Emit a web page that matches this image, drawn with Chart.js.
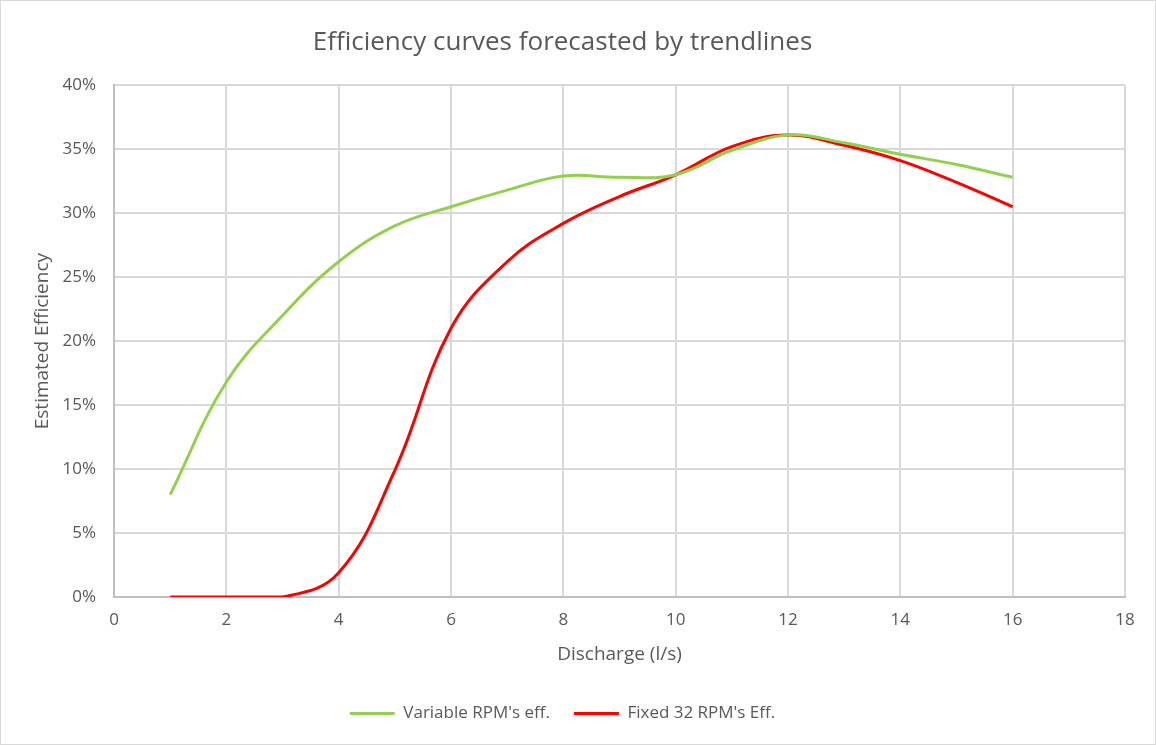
<!DOCTYPE html>
<html>
<head>
<meta charset="utf-8">
<script src="https://cdn.jsdelivr.net/npm/chart.js@4/dist/chart.umd.min.js"></script>
<style>
  html, body { margin: 0; padding: 0; background: #fff; }
  #wrap { width: 1156px; height: 745px; position: relative; }
</style>
</head>
<body>
<div id="wrap"><canvas id="chart"></canvas></div>
<script>
// discharge (l/s) and efficiency (%)
const discharge = [1, 2, 3, 4, 5, 6, 7, 8, 9, 10, 11, 12, 13, 14, 15, 16];
const variableEff = [8.0, 16.8, 22.0, 26.2, 29.0, 30.5, 31.8, 32.9, 32.8, 33.0, 34.9, 36.1, 35.5, 34.6, 33.8, 32.8];
const fixedEff = [0, 0, 0, 1.9, 9.9, 21.0, 26.2, 29.2, 31.3, 33.0, 35.2, 36.1, 35.3, 34.1, 32.4, 30.5];
const xTicks = [0, 2, 4, 6, 8, 10, 12, 14, 16, 18];
const yTicks = [0, 5, 10, 15, 20, 25, 30, 35, 40];

const FONT = '"Open Sans", Lato, sans-serif';
const TEXT = '#595959';
const GRID = '#d9d9d9';

const toPoints = (xs, ys) => xs.map((x, i) => ({ x: x, y: ys[i] }));

// thin frame round the whole chart, like the spreadsheet chart area
const frame = {
  id: 'frame',
  beforeDraw(chart) {
    const ctx = chart.ctx;
    ctx.save();
    ctx.fillStyle = '#fff';
    ctx.fillRect(0, 0, chart.width, chart.height);
    ctx.strokeStyle = GRID;
    ctx.lineWidth = 1;
    ctx.strokeRect(0.5, 0.5, chart.width - 1, chart.height - 1);
    ctx.restore();
  }
};

new Chart(document.getElementById('chart'), {
  type: 'line',
  data: {
    datasets: [
      {
        label: "Variable RPM's eff.",
        data: toPoints(discharge, variableEff),
        borderColor: '#92d050',
        backgroundColor: '#92d050',
        borderWidth: 3,
        pointRadius: 0,
        tension: 0.4
      },
      {
        label: "Fixed 32 RPM's Eff.",
        data: toPoints(discharge, fixedEff),
        borderColor: '#ff0000',
        backgroundColor: '#ff0000',
        borderWidth: 3,
        pointRadius: 0,
        tension: 0.4
      }
    ]
  },
  options: {
    responsive: true,
    maintainAspectRatio: false,
    animation: false,
    layout: { padding: { left: 0, right: 31, top: 0, bottom: 13 } },
    plugins: {
      title: {
        display: true,
        text: 'Efficiency curves forecasted by trendlines',
        color: TEXT,
        font: { family: FONT, size: 26, weight: 'normal' },
        padding: { top: 27, bottom: 27 }
      },
      legend: {
        position: 'bottom',
        labels: {
          color: TEXT,
          font: { family: FONT, size: 17 },
          usePointStyle: true,
          pointStyleWidth: 45,
          pointStyle: 'line',
          padding: 24
        }
      },
      tooltip: { enabled: false }
    },
    scales: {
      x: {
        type: 'linear',
        min: 0,
        max: 18,
        afterBuildTicks: scale => { scale.ticks = xTicks.map(v => ({ value: v })); },
        afterFit: scale => { scale.height = 84; },
        border: { color: '#bfbfbf', width: 2 },
        grid: { color: GRID, lineWidth: 2, drawTicks: false },
        ticks: { color: TEXT, font: { family: FONT, size: 17 }, padding: 13, maxRotation: 0 },
        title: {
          display: true,
          text: 'Discharge (l/s)',
          color: TEXT,
          font: { family: FONT, size: 19 },
          padding: { top: 0, bottom: 15 }
        }
      },
      y: {
        min: 0,
        max: 40,
        afterBuildTicks: scale => { scale.ticks = yTicks.map(v => ({ value: v })); },
        afterFit: scale => { scale.width = 114; },
        border: { color: '#bfbfbf', width: 2 },
        grid: { color: GRID, lineWidth: 2, drawTicks: false },
        ticks: {
          color: TEXT,
          font: { family: FONT, size: 17 },
          padding: 18,
          callback: v => v + '%'
        },
        title: {
          display: true,
          text: 'Estimated Efficiency',
          color: TEXT,
          font: { family: FONT, size: 19 },
          padding: { top: 31, bottom: 0 }
        }
      }
    }
  },
  plugins: [frame]
});
</script>
</body>
</html>
